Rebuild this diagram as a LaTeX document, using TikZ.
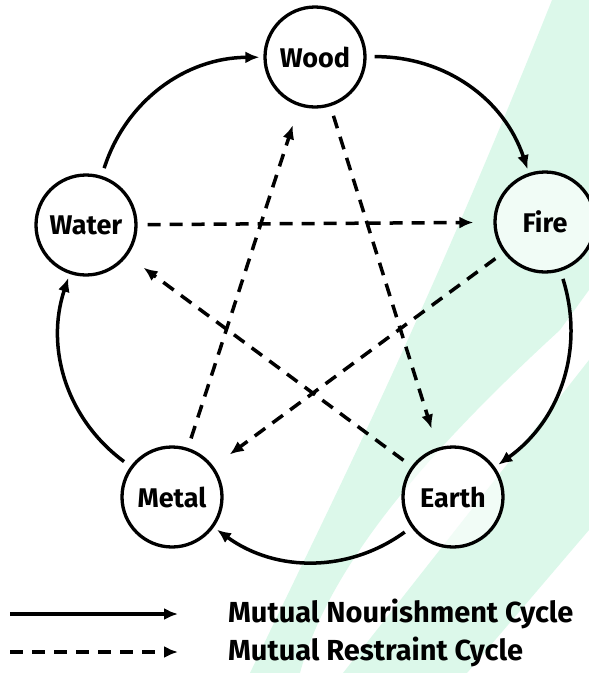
\documentclass[tikz,border=0pt]{standalone}
\usepackage{fontspec}
\setmainfont{Fira Sans}
\usetikzlibrary{arrows.meta}
\definecolor{mint}{RGB}{220,248,234}
\tikzset{elem/.style={draw,circle,line width=3.3pt,minimum size=100pt,inner sep=0pt,fill=white,fill opacity=.6,text opacity=1,font=\bfseries\fontsize{27}{29}\selectfont},
nour/.style={-{Latex[length=14pt,width=12pt]},line width=3.5pt},rest/.style={nour,dash pattern=on 13pt off 9pt},
legend/.style={anchor=west,inner sep=0pt,font=\bfseries\fontsize{29}{32}\selectfont}}

\begin{document}
\begin{tikzpicture}[x=1pt,y=-1pt]
% watermark bands
\fill[mint](250,673)..controls(330,505)and(420,330)..(552,0)--(589,0)--(589,290)--(560,330)..controls(440,440)and(330,560)..(300,673)--cycle;
\fill[mint](343,673)--(589,360)--(589,530)--(467,673)--cycle;
\useasboundingbox(0,0)rectangle(589,673);
\node[elem](wood)at(315,57){Wood};
\node[elem](water)at(86,225){Water};\node[elem](fire)at(545,222){Fire};
\node[elem](metal)at(172,497){Metal};\node[elem](earth)at(453,497){Earth};
\foreach\a/\b in{water/wood,wood/fire,fire/earth,earth/metal,metal/water}\draw[nour,shorten <=8pt,shorten >=4pt](\a)to[bend left=36](\b);
\foreach\a/\b in{water/fire,fire/metal,metal/wood,wood/earth,earth/water}\draw[rest,shorten <=10pt,shorten >=20pt](\a)--(\b);
% legend
\coordinate(s1)at(10,614);\coordinate(e1)at(178,614);
\coordinate(s2)at(10,652);\coordinate(e2)at(178,652);
\draw[nour](s1)--(e1);\draw[rest](s2)--(e2);
\node[legend](t1)at(228,614){Mutual Nourishment Cycle};
\node[legend](t2)at(228,652){Mutual Restraint Cycle};
\end{tikzpicture}
\end{document}
